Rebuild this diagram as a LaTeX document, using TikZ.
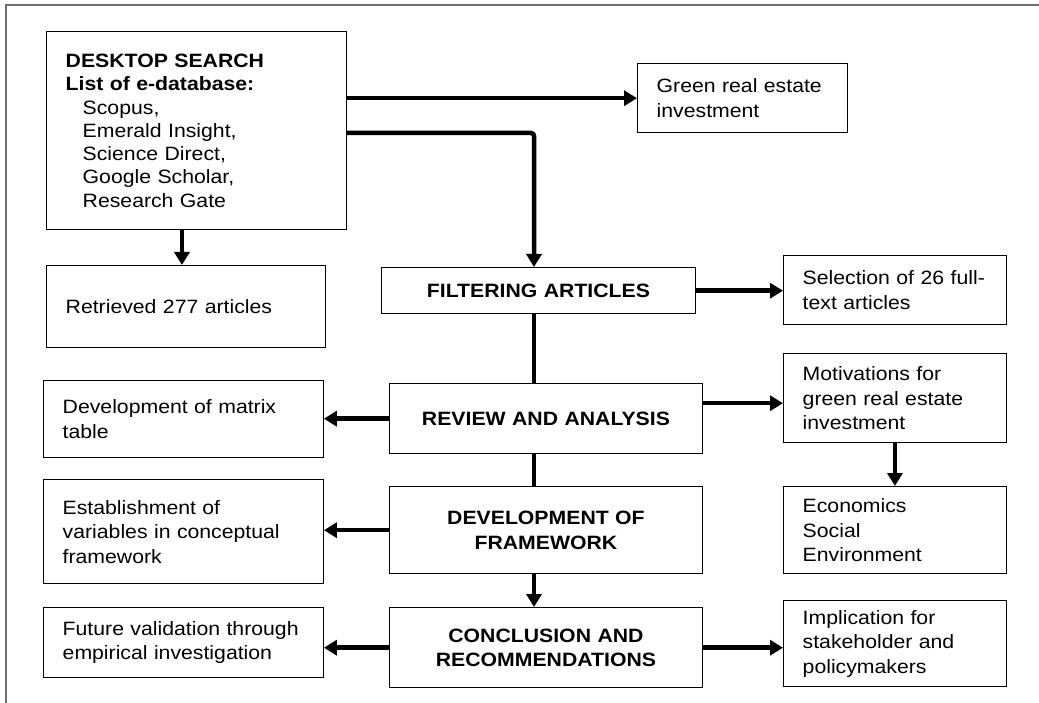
\documentclass[tikz,border=0pt]{standalone}
\usepackage{fontspec}
\setmainfont{Liberation Sans}[FakeStretch=1.1]
\usetikzlibrary{arrows.meta}
\definecolor{frameGray}{RGB}{110,110,110}
\newcommand{\boxfont}{\fontsize{19.3}{24.5}\selectfont}

\begin{document}
\begin{tikzpicture}[x=1pt,y=-1pt]
\tikzstyle{note}=[draw,line width=1.4pt,anchor=north west,inner xsep=19pt,inner ysep=0pt,align=left,font=\boxfont]
\tikzstyle{stage}=[note,align=center,font=\boxfont\bfseries]
\tikzstyle{link}=[line width=4.5pt,-{Triangle[length=13pt,width=15pt]}]
\tikzstyle{bar}=[line width=4.5pt]
\useasboundingbox (0,0) rectangle (1039,703);
\draw[line width=2pt,frameGray] (5.5,703) -- (5.5,5.5) -- (1039,5.5);

% left column
\node[note,text width=261.5pt,minimum height=198pt,font=\fontsize{19.3}{23.3}\selectfont] (desk) at (46,31)
    {\textbf{DESKTOP SEARCH}\\
     \textbf{List of e-database:}\\
     \hspace*{17pt}Scopus,\\
     \hspace*{17pt}Emerald Insight,\\
     \hspace*{17pt}Science Direct,\\
     \hspace*{17pt}Google Scholar,\\
     \hspace*{17pt}Research Gate\\[6pt]};
\node[note,text width=240.5pt,minimum height=82pt] (retr) at (46,265) {Retrieved 277 articles};
\node[note,text width=241.5pt,minimum height=77pt] (devmat) at (43,380) {Development of matrix\\table};
\node[note,text width=241.5pt,minimum height=104pt] (estab) at (43,479) {Establishment of\\variables in conceptual\\framework};
\node[note,text width=241.5pt,minimum height=70pt] (future) at (43,607) {Future validation through\\empirical investigation};

% middle column
\node[stage,text width=275.5pt,minimum height=46pt] (filter) at (381,267) {FILTERING ARTICLES};
\node[stage,text width=274.5pt,minimum height=70pt] (review) at (389,383) {REVIEW AND ANALYSIS};
\node[stage,text width=274.5pt,minimum height=87pt] (dev) at (389,486) {DEVELOPMENT OF\\FRAMEWORK};
\node[stage,text width=274.5pt,minimum height=80pt] (concl) at (389,607) {CONCLUSION AND\\RECOMMENDATIONS};

% right column
\node[note,text width=171.5pt,minimum height=69pt] (green) at (637,63) {Green real estate\\investment};
\node[note,text width=184.5pt,minimum height=69pt] (sel) at (783,255) {Selection of 26 full-\\text articles};
\node[note,text width=184.5pt,minimum height=89pt] (motiv) at (783,353) {Motivations for\\green real estate\\investment};
\node[note,text width=184.5pt,minimum height=87pt] (econ) at (783,486) {Economics\\Social\\Environment};
\node[note,text width=184.5pt,minimum height=86pt] (impl) at (783,600) {Implication for\\stakeholder and\\policymakers};

\coordinate (turn) at (534,133);
\draw[link] (green.west -| desk.east) -- (green.west);
\draw[link,rounded corners=3pt] (desk.east |- turn) -- (turn) -- (turn |- filter.north);
\draw[link] ([xshift=-4pt]retr.north |- desk.south) -- ([xshift=-4pt]retr.north);
\draw[link] (filter.east) -- (filter.east -| sel.west);
\draw[bar] (turn |- filter.south) -- (turn |- review.north);
\draw[link] (review.west) -- (review.west -| devmat.east);
\draw[link] ([yshift=-5pt]motiv.west -| review.east) -- ([yshift=-5pt]motiv.west);
\draw[link] (motiv.south) -- (econ.north);
\draw[bar] (turn |- review.south) -- (turn |- dev.north);
\draw[link] (dev.west) -- (dev.west -| estab.east);
\draw[link] (turn |- dev.south) -- (turn |- concl.north);
\draw[link] (concl.west) -- (concl.west -| future.east);
\draw[link] (concl.east) -- (concl.east -| impl.west);
\end{tikzpicture}
\end{document}
